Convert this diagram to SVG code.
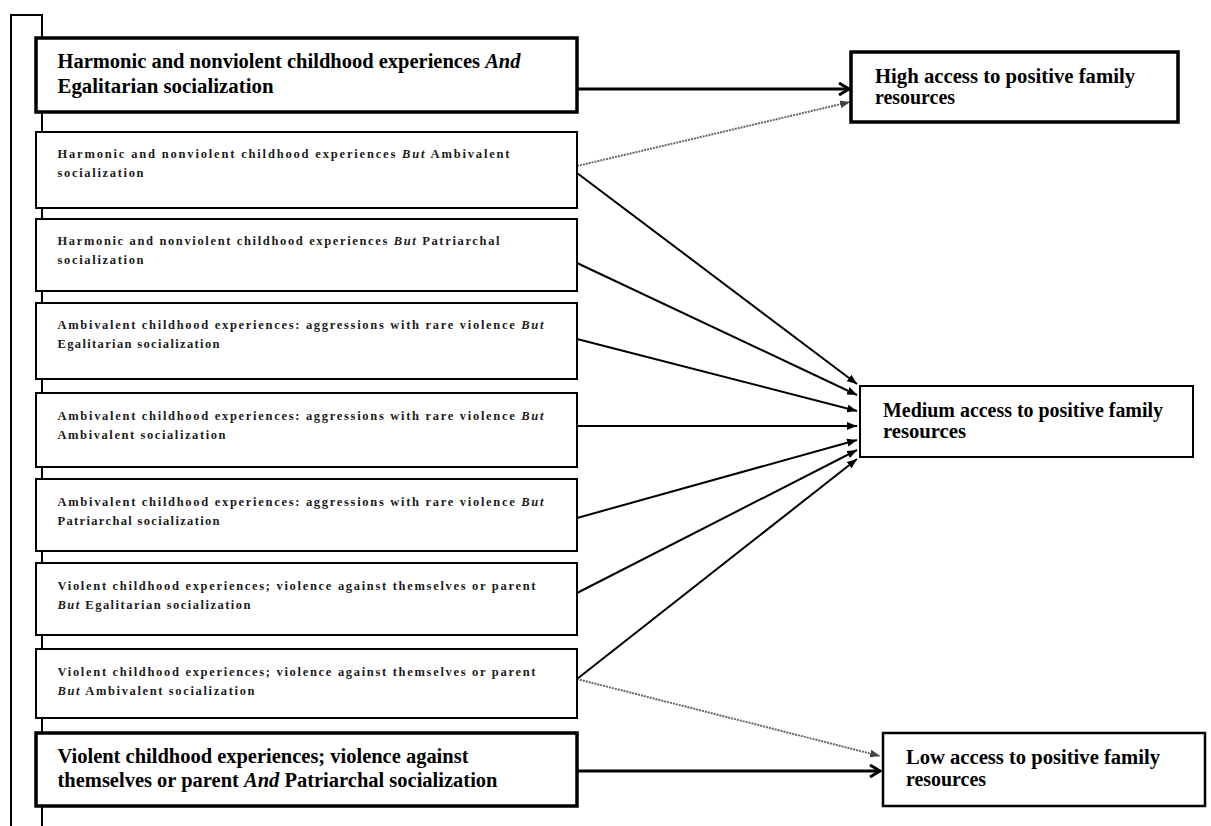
<svg xmlns="http://www.w3.org/2000/svg" width="1211" height="826" viewBox="0 0 1211 826">
<defs>
<style>
.box{fill:#fff;stroke:#000;stroke-width:2}
.thick{fill:#fff;stroke:#000;stroke-width:3.5}
.big{font-family:"Liberation Serif","Times New Roman",serif;font-weight:bold;font-size:20px;fill:#000}
.small{font-family:"Liberation Serif","Times New Roman",serif;font-weight:bold;font-size:12.5px;fill:#1a1a1a}
.it{font-style:italic}
.con{stroke:#000;stroke-width:2;fill:none}
.conT{stroke:#000;stroke-width:3;fill:none}
.dot{stroke:#666;stroke-width:2;stroke-dasharray:2 1;fill:none}
.br{stroke:#000;stroke-width:2;fill:none}
</style>
<marker id="tri" markerUnits="userSpaceOnUse" markerWidth="10" markerHeight="8" refX="10" refY="4" orient="auto">
<path d="M0,0 L10,4 L0,8 z" fill="#000"/>
</marker>
<marker id="triG" markerUnits="userSpaceOnUse" markerWidth="10" markerHeight="8" refX="10" refY="4" orient="auto">
<path d="M0,0 L10,4 L0,8 z" fill="#444"/>
</marker>
<marker id="chev" markerUnits="userSpaceOnUse" markerWidth="14" markerHeight="14" refX="12" refY="7" orient="auto">
<path d="M2,1 L12,7 L2,13" fill="none" stroke="#000" stroke-width="3"/>
</marker>
</defs>
<rect width="1211" height="826" fill="#fff"/>

<g id="bracket">
<path class="br" d="M11,826 V15 H42 V826"/>
</g>

<g id="connectors">
<line class="conT" x1="577" y1="89" x2="849" y2="89" marker-end="url(#chev)"/>
<line class="dot" x1="577" y1="166" x2="850" y2="102" marker-end="url(#triG)"/>
<line class="con" x1="577" y1="173" x2="857" y2="384" marker-end="url(#tri)"/>
<line class="con" x1="577" y1="263" x2="857" y2="395" marker-end="url(#tri)"/>
<line class="con" x1="577" y1="339" x2="857" y2="411" marker-end="url(#tri)"/>
<line class="con" x1="577" y1="426" x2="857" y2="426" marker-end="url(#tri)"/>
<line class="con" x1="577" y1="518" x2="857" y2="440" marker-end="url(#tri)"/>
<line class="con" x1="577" y1="593" x2="857" y2="450" marker-end="url(#tri)"/>
<line class="con" x1="577" y1="679" x2="857" y2="459" marker-end="url(#tri)"/>
<line class="dot" x1="577" y1="679" x2="880" y2="756" marker-end="url(#triG)"/>
<line class="conT" x1="577" y1="771" x2="880" y2="771" marker-end="url(#chev)"/>
</g>

<g id="n1">
<rect class="thick" x="36" y="38" width="541" height="74"/>
<text class="big" x="57.5" y="68" textLength="463" lengthAdjust="spacingAndGlyphs">Harmonic and nonviolent childhood experiences <tspan class="it">And</tspan></text>
<text class="big" x="57.5" y="93" textLength="216" lengthAdjust="spacingAndGlyphs">Egalitarian socialization</text>
</g>

<g id="n2">
<rect class="box" x="36" y="132" width="541" height="76"/>
<text class="small" x="57.5" y="158" textLength="452" lengthAdjust="spacing">Harmonic and nonviolent childhood experiences <tspan class="it">But</tspan> Ambivalent</text>
<text class="small" x="57.5" y="177" textLength="86" lengthAdjust="spacing">socialization</text>
</g>

<g id="n3">
<rect class="box" x="36" y="219" width="541" height="72"/>
<text class="small" x="57.5" y="245" textLength="442" lengthAdjust="spacing">Harmonic and nonviolent childhood experiences <tspan class="it">But</tspan> Patriarchal</text>
<text class="small" x="57.5" y="264" textLength="86" lengthAdjust="spacing">socialization</text>
</g>

<g id="n4">
<rect class="box" x="36" y="303" width="541" height="76"/>
<text class="small" x="57.5" y="329" textLength="486" lengthAdjust="spacing">Ambivalent childhood experiences: aggressions with rare violence <tspan class="it">But</tspan></text>
<text class="small" x="57.5" y="348" textLength="162" lengthAdjust="spacing">Egalitarian socialization</text>
</g>

<g id="n5">
<rect class="box" x="36" y="393" width="541" height="74"/>
<text class="small" x="57.5" y="420" textLength="486" lengthAdjust="spacing">Ambivalent childhood experiences: aggressions with rare violence <tspan class="it">But</tspan></text>
<text class="small" x="57.5" y="439" textLength="168" lengthAdjust="spacing">Ambivalent socialization</text>
</g>

<g id="n6">
<rect class="box" x="36" y="479" width="541" height="72"/>
<text class="small" x="57.5" y="506" textLength="486" lengthAdjust="spacing">Ambivalent childhood experiences: aggressions with rare violence <tspan class="it">But</tspan></text>
<text class="small" x="57.5" y="525" textLength="162" lengthAdjust="spacing">Patriarchal  socialization</text>
</g>

<g id="n7">
<rect class="box" x="36" y="563" width="541" height="72"/>
<text class="small" x="57.5" y="590" textLength="478" lengthAdjust="spacing">Violent childhood experiences; violence against themselves or parent</text>
<text class="small" x="57.5" y="609" textLength="193" lengthAdjust="spacing"><tspan class="it">But</tspan> Egalitarian  socialization</text>
</g>

<g id="n8">
<rect class="box" x="36" y="649" width="541" height="69"/>
<text class="small" x="57.5" y="676" textLength="478" lengthAdjust="spacing">Violent childhood experiences; violence against themselves or parent</text>
<text class="small" x="57.5" y="695" textLength="197" lengthAdjust="spacing"><tspan class="it">But</tspan> Ambivalent socialization</text>
</g>

<g id="n9">
<rect class="thick" x="36" y="733" width="541" height="73"/>
<text class="big" x="57.5" y="763" textLength="411" lengthAdjust="spacingAndGlyphs">Violent childhood experiences; violence against</text>
<text class="big" x="57.5" y="787" textLength="440" lengthAdjust="spacingAndGlyphs">themselves or parent <tspan class="it">And</tspan> Patriarchal socialization</text>
</g>

<g id="high">
<rect class="thick" x="851" y="52" width="327" height="70"/>
<text class="big" x="875" y="83" textLength="260" lengthAdjust="spacingAndGlyphs">High access to positive family</text>
<text class="big" x="875" y="104" textLength="80" lengthAdjust="spacingAndGlyphs">resources</text>
</g>

<g id="medium">
<rect class="box" x="860" y="386" width="333" height="71"/>
<text class="big" x="883" y="417" textLength="280" lengthAdjust="spacingAndGlyphs">Medium access to positive family</text>
<text class="big" x="883" y="438" textLength="83" lengthAdjust="spacingAndGlyphs">resources</text>
</g>

<g id="low">
<rect class="box" x="883" y="733" width="322" height="73" style="stroke-width:2.5"/>
<text class="big" x="906" y="764" textLength="254" lengthAdjust="spacingAndGlyphs">Low access to positive family</text>
<text class="big" x="906" y="786" textLength="80" lengthAdjust="spacingAndGlyphs">resources</text>
</g>
</svg>
